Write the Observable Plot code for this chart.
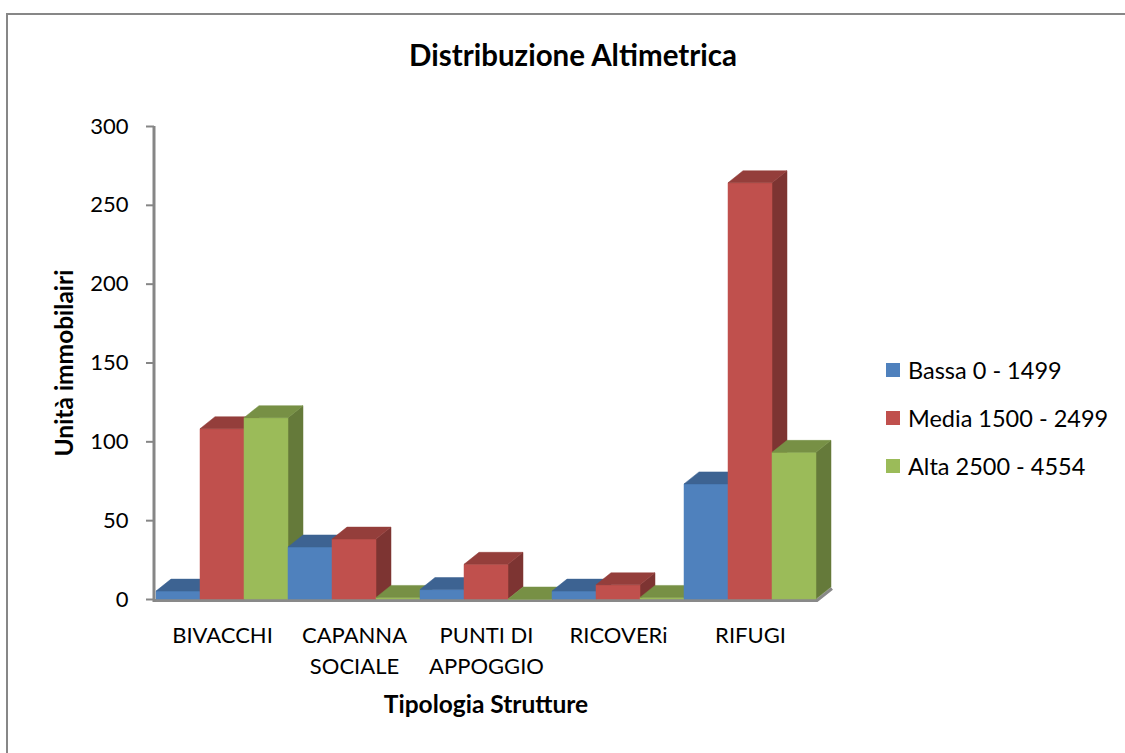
<!DOCTYPE html>
<html>
<head>
<meta charset="utf-8">
<script src="https://cdn.jsdelivr.net/npm/d3@7"></script>
<script src="https://cdn.jsdelivr.net/npm/@observablehq/plot@0.6"></script>
<style>
  html, body { margin: 0; padding: 0; background: #fff; overflow: hidden; }
  #chart { position: relative; width: 1125px; height: 753px; font-family: Lato, "Noto Sans", sans-serif; color: #000; }
  #border { position: absolute; left: 6px; top: 13px; width: 1400px; height: 1000px; border: 2px solid #878787; box-sizing: border-box; }
  #title { position: absolute; left: 0; width: 1146px; top: 37px; text-align: center; font-size: 29.5px; font-weight: bold; line-height: 36px; }
  #plot { position: absolute; left: 0; top: 0; }
  #legend { position: absolute; left: 886px; top: 346px; font-size: 23.5px; }
  #legend .row { display: flex; align-items: center; height: 48px; white-space: nowrap; }
  #legend .sw { width: 14px; height: 14px; margin-right: 8px; flex: none; }
</style>
</head>
<body>
<div id="chart">
  <div id="border"></div>
  <div id="plot"></div>
  <div id="title">Distribuzione Altimetrica</div>
  <div id="legend"></div>
</div>
<script>
// Structure types along the x axis (line breaks are kept in the tick labels)
const categories = ["BIVACCHI", "CAPANNA\nSOCIALE", "PUNTI DI\nAPPOGGIO", "RICOVERi", "RIFUGI"];
// Altitude bands
const seriesNames = ["Bassa 0 - 1499", "Media 1500 - 2499", "Alta 2500 - 4554"];
const seriesColors = ["#4F81BD", "#C0504D", "#9BBB59"];
// Number of buildings per structure type, one array per altitude band
const bassa = [5, 33, 6, 5, 73];
const media = [108, 38, 22, 9, 264];
const alta = [115, 1, 0, 1, 93];
const yTicks = [0, 50, 100, 150, 200, 250, 300];
const yLabel = "Unità immobilairi";
const xLabel = "Tipologia Strutture";

const seriesValues = [bassa, media, alta];
const rows = [];
categories.forEach((category, c) => {
  seriesNames.forEach((series, s) => {
    rows.push({category, series, s, value: seriesValues[s][c]});
  });
});

// depth of the extruded columns, in pixels
const DX = 15, DY = 12;
const shade = (color, k) => {
  const c = d3.rgb(color);
  return d3.rgb(c.r * k, c.g * k, c.b * k).formatHex();
};

// draws each bar as a box: front face, top face and right side face
function columns3d(index, scales, values) {
  const bw = scales.x.bandwidth() / seriesNames.length;
  const g = d3.create("svg:g");
  const order = d3.sort(index, i => values.x[i] + rows[i].s * bw);
  for (const i of order) {
    const x0 = values.x[i] + rows[i].s * bw, x1 = x0 + bw;
    const yb = values.y1[i], yt = values.y2[i];
    const col = values.fill[i];
    const front = col, top = shade(col, 0.77), side = shade(col, 0.65);
    g.append("path")
      .attr("d", `M${x1},${yb}L${x1},${yt}L${x1 + DX},${yt - DY}L${x1 + DX},${yb - DY}Z`)
      .attr("fill", side).attr("stroke", side).attr("stroke-width", 0.5);
    g.append("path")
      .attr("d", `M${x0},${yb}L${x1},${yb}L${x1},${yt}L${x0},${yt}Z`)
      .attr("fill", front).attr("stroke", front).attr("stroke-width", 0.5);
    g.append("path")
      .attr("d", `M${x0},${yt}L${x0 + DX},${yt - DY}L${x1 + DX},${yt - DY}L${x1},${yt}Z`)
      .attr("fill", top).attr("stroke", top).attr("stroke-width", 0.5);
  }
  return g.node();
}

// grey floor slab under the columns
function floor(index, scales, values, dims) {
  const y0 = scales.y(0) + 1.5;
  const xa = dims.marginLeft, xb = dims.width - dims.marginRight;
  return d3.create("svg:path")
    .attr("d", `M${xa},${y0}L${xb},${y0}L${xb + DX},${y0 - DY}`)
    .attr("fill", "none").attr("stroke", "#898989").attr("stroke-width", 3)
    .node();
}

// vertical value axis line
function axisLine(index, scales, values, dims) {
  const [ya, yb] = [scales.y(300), scales.y(0) + 3];
  const x = dims.marginLeft;
  return d3.create("svg:path")
    .attr("d", `M${x},${ya}L${x},${yb}`)
    .attr("stroke", "#868686").attr("stroke-width", 3)
    .node();
}

const chart = Plot.plot({
  width: 1125,
  height: 753,
  marginLeft: 154,
  marginRight: 308,
  marginTop: 126,
  marginBottom: 154,
  style: {fontFamily: "Lato, 'Noto Sans', sans-serif", fontSize: "22px", background: "transparent", color: "#000"},
  x: {domain: categories, padding: 0, label: null},
  y: {domain: [0, 300], label: null},
  color: {domain: seriesNames, range: seriesColors},
  marks: [
    floor,
    Plot.barY(rows, {x: "category", y1: 0, y2: "value", fill: "series", render: columns3d}),
    Plot.axisY({ticks: yTicks, tickSize: 8, tickPadding: 18, stroke: "#868686", strokeWidth: 2, label: null, fontSize: 22}),
    Plot.axisX({tickSize: 0, tickPadding: 21, label: null, fontSize: 22, lineHeight: 1.42}),
    axisLine,
    Plot.text([yLabel], {frameAnchor: "left", textAnchor: "middle", dx: -89, rotate: -90, fontWeight: "bold", fontSize: 24.5}),
    Plot.text([xLabel], {frameAnchor: "bottom", dy: 113, fontWeight: "bold", fontSize: 24.5})
  ]
});
document.getElementById("plot").append(chart);

// legend
const legend = d3.select("#legend");
seriesNames.forEach((name, s) => {
  const row = legend.append("div").attr("class", "row");
  row.append("div").attr("class", "sw").style("background", seriesColors[s]);
  row.append("span").text(name);
});
</script>
</body>
</html>
